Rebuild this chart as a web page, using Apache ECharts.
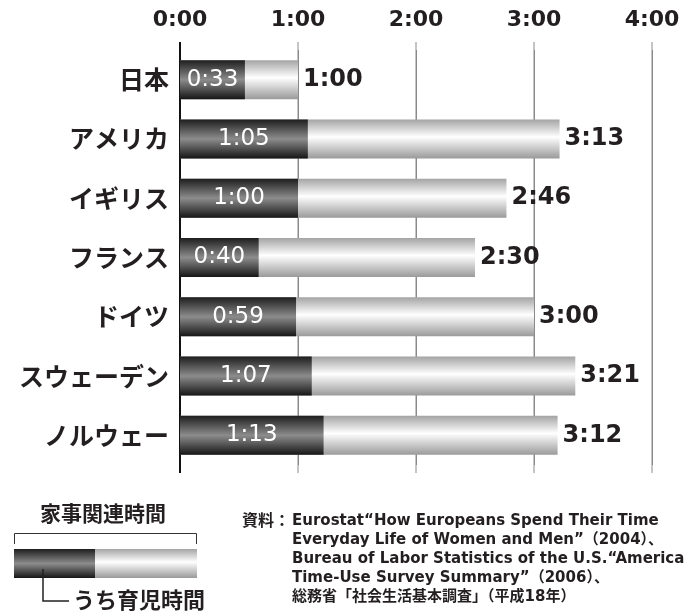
<!DOCTYPE html>
<html>
<head>
<meta charset="utf-8">
<script src="https://cdn.jsdelivr.net/npm/echarts@6/dist/echarts.min.js"></script>
<style>html,body{margin:0;padding:0;background:#fff;}#c{width:691px;height:615px;}</style>
</head>
<body>
<div id="c"></div>
<script>
const categories = ['日本','アメリカ','イギリス','フランス','ドイツ','スウェーデン','ノルウェー'];
const childcareMinutes = [33, 65, 60, 40, 59, 67, 73];
const houseworkMinutes = [60, 193, 166, 150, 180, 201, 192];
const tickLabels = ['0:00','1:00','2:00','3:00','4:00'];
const legendTotalLabel = '家事関連時間';
const legendChildLabel = 'うち育児時間';
const sourceHead = '資料：';
const sourceLines = [
  'Eurostat“How Europeans Spend Their Time',
  'Everyday Life of Women and Men”（2004）、',
  'Bureau of Labor Statistics of the U.S.“America',
  'Time-Use Survey Summary”（2006）、',
  '総務省「社会生活基本調査」（平成18年）'
];

function fmt(m){ return Math.floor(m/60) + ':' + String(m % 60).padStart(2,'0'); }

const darkGrad = () => new echarts.graphic.LinearGradient(0,0,0,1,[
  {offset:0,color:'#1e1e1e'},{offset:0.5,color:'#8c8c8c'},{offset:1,color:'#161616'}]);
const lightGrad = () => new echarts.graphic.LinearGradient(0,0,0,1,[
  {offset:0,color:'#a4a4a4'},{offset:0.45,color:'#ffffff'},{offset:1,color:'#9a9a9a'}]);

const TXT = '#231f20';
const jpFont = "'Noto Sans CJK JP', sans-serif";
const numFont = "'DejaVu Sans', 'Noto Sans CJK JP', sans-serif";

const chart = echarts.init(document.getElementById('c'), null, {renderer:'canvas'});
const option = {
  animation: false,
  backgroundColor: '#fff',
  grid: {left: 180, right: 39, top: 50, bottom: 150, containLabel: false},
  xAxis: {
    type: 'value', position: 'top', min: 0, max: 240, interval: 60,
    axisLine: {show: false}, axisTick: {show: false},
    splitLine: {show: true, lineStyle: {color: '#8a8a8a', width: 1}},
    axisLabel: {
      margin: 19, color: TXT, fontSize: 22, fontWeight: 'bold',
      fontFamily: "'DejaVu Sans', sans-serif",
      formatter: (v, i) => tickLabels[i]
    }
  },
  yAxis: {
    type: 'category', inverse: true, data: categories,
    axisLine: {show: true, lineStyle: {color: '#111', width: 2}},
    axisTick: {show: false},
    axisLabel: {margin: 11, color: TXT, fontSize: 25, fontWeight: 'bold', fontFamily: jpFont}
  },
  series: [
    {
      name: legendTotalLabel, type: 'bar', data: houseworkMinutes, barWidth: 39, barGap: '-100%', z: 2,
      itemStyle: {color: lightGrad()},
      label: {show: true, position: 'right', distance: 5, color: TXT, fontSize: 24, fontWeight: 'bold',
        fontFamily: numFont, formatter: p => fmt(p.value)}
    },
    {
      name: legendChildLabel, type: 'bar', data: childcareMinutes, barWidth: 39, z: 3,
      itemStyle: {color: darkGrad()},
      label: {show: true, position: 'inside', color: '#fff', fontSize: 23,
        fontFamily: numFont, formatter: p => fmt(p.value)}
    }
  ]
};
chart.setOption(option);

// extend axis & grid lines slightly above/below the plot like the original
const ext = [];
[0,60,120,180,240].forEach((v, i) => {
  const x = chart.convertToPixel({xAxisIndex: 0}, v);
  const isAxis = i === 0;
  ext.push({type:'line', z: 1, shape:{x1:x, y1:42, x2:x, y2:473},
    style:{stroke: isAxis ? '#111' : '#8a8a8a', lineWidth: isAxis ? 2 : 1}});
});

const legend = [
  {type:'text', left: 40, top: 503, z: 5, style:{text: legendTotalLabel, fontSize: 21, fontWeight:'bold', fontFamily: jpFont, fill: TXT}},
  {type:'polyline', z:5, shape:{points:[[14.5,544],[14.5,533.5],[196.5,533.5],[196.5,544]]}, style:{stroke:'#333', lineWidth:1, fill:null}},
  {type:'rect', z:5, shape:{x:14, y:549, width:183, height:29}, style:{fill: lightGrad()}},
  {type:'rect', z:6, shape:{x:14, y:549, width:81, height:29}, style:{fill: darkGrad()}},
  {type:'polyline', z:7, shape:{points:[[43,569],[43,601],[69,601]]}, style:{stroke:'#222', lineWidth:1.5, fill:null}},
  {type:'text', left: 73, top: 589, z: 5, style:{text: legendChildLabel, fontSize: 22, fontWeight:'bold', fontFamily: jpFont, fill: TXT}},
  {type:'text', left: 242, top: 512, z: 5, style:{text: sourceHead, fontSize: 16, fontWeight:'bold', fontFamily: jpFont, fill: TXT}},
  {type:'text', left: 292, top: 512, z: 5, style:{text: sourceLines.join('\n'), lineHeight: 19, fontSize: 15, fontWeight:'bold', fontFamily: numFont, fill: TXT}}
];
chart.setOption({graphic: ext.concat(legend)});
</script>
</body>
</html>
